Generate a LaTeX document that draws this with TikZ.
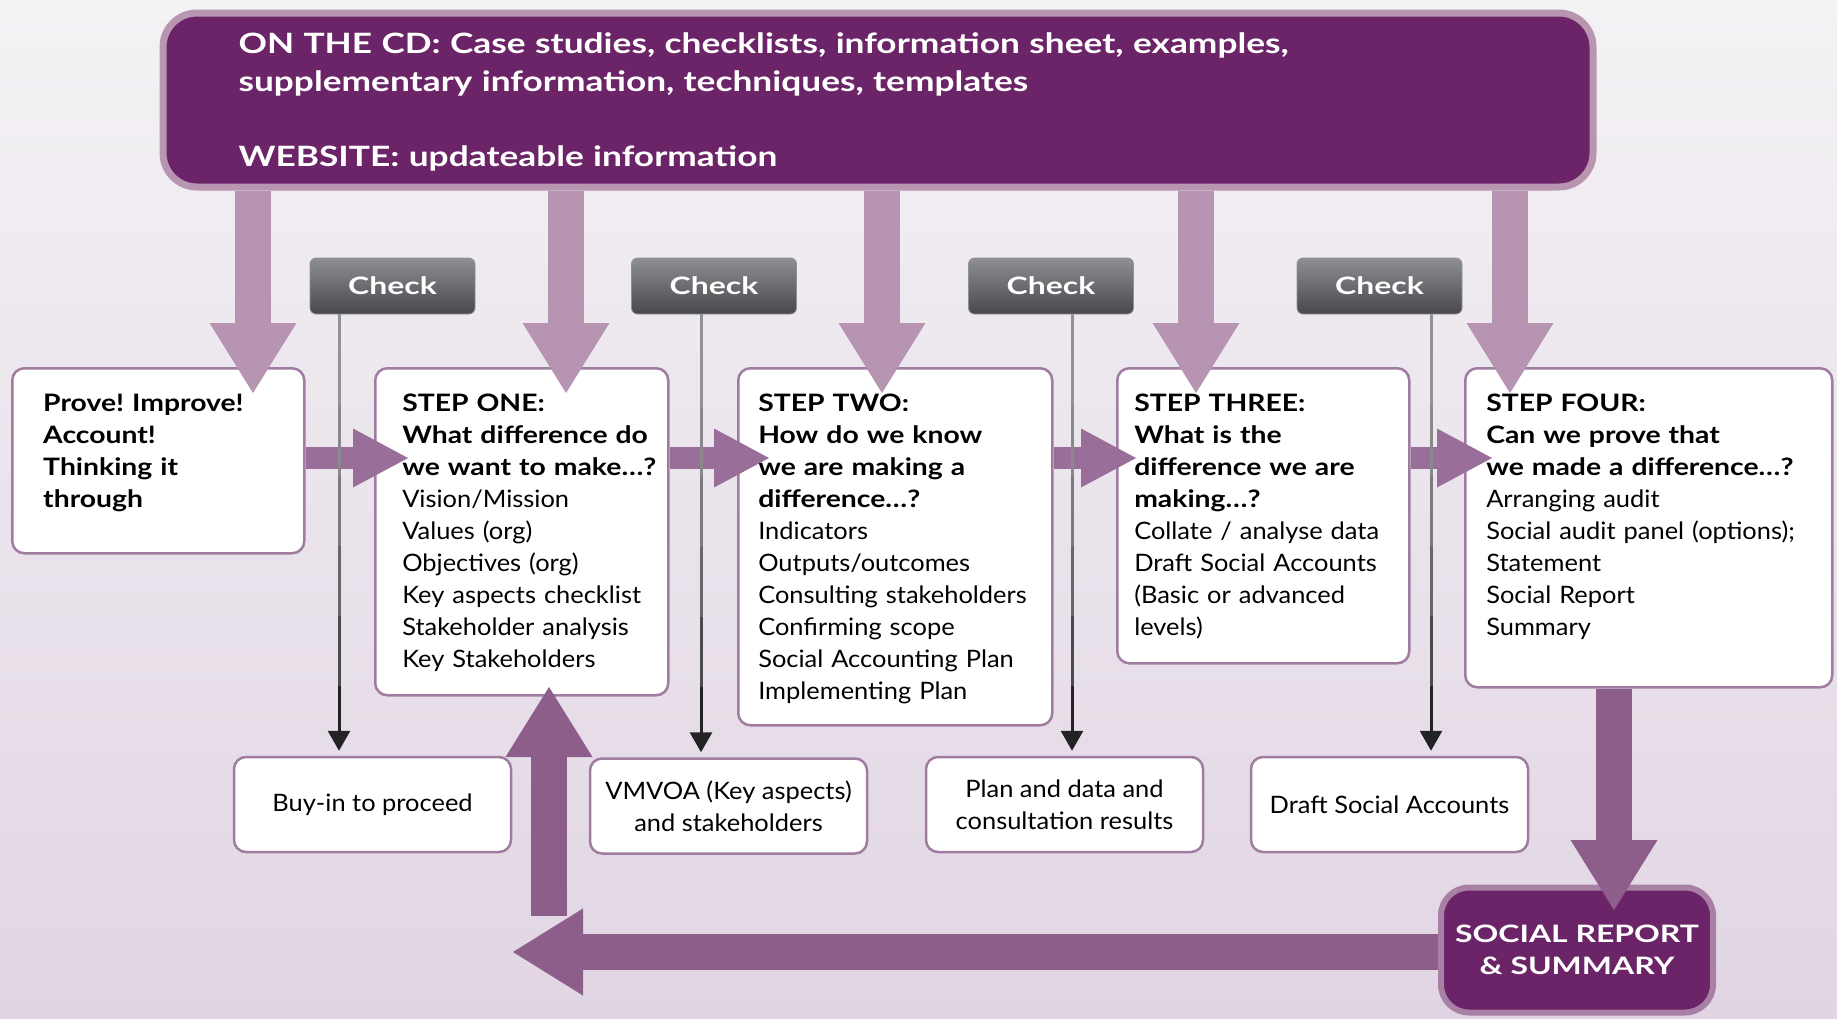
\documentclass[tikz,border=0pt]{standalone}
\usepackage{fontspec}
\setmainfont{Lato}[UprightFeatures={FakeStretch=1.06},BoldFeatures={FakeStretch=1.18}]
\newfontfamily\widesans{Lato}[FakeStretch=1.33]
\newfontfamily\cdsans{Lato}[FakeStretch=1.26]
\frenchspacing
\usetikzlibrary{arrows.meta,calc}
\definecolor{cd_purple}{RGB}{107,36,103}
\definecolor{cd_rim}{RGB}{184,150,178}
\definecolor{feed_purple}{RGB}{183,148,177}
\definecolor{step_purple}{RGB}{153,110,152}
\definecolor{loop_purple}{RGB}{142,94,139}
\definecolor{box_rim}{RGB}{160,125,160}
\definecolor{report_rim}{RGB}{168,128,165}
\definecolor{check_top}{RGB}{142,143,147}
\definecolor{check_bot}{RGB}{72,72,76}
\definecolor{check_line}{RGB}{35,35,37}
\definecolor{check_fade}{RGB}{170,170,173}
\definecolor{bg_top}{RGB}{244,242,245}
\definecolor{bg_bot}{RGB}{225,213,227}
\tikzstyle{cdbox}=[rectangle,fill=cd_purple,draw=cd_rim,line width=7pt,rounded corners=34pt,
  anchor=north west,inner sep=0pt,align=left,text=white,
  font=\cdsans\fontsize{28}{37.5}\selectfont\bfseries]
\tikzstyle{stepbox}=[rectangle,fill=white,draw=box_rim,line width=2.5pt,rounded corners=12pt,
  anchor=north west,inner sep=0pt,align=left,text height=43pt,
  font=\fontsize{24}{32}\selectfont]
\tikzstyle{checkbox}=[rectangle,rounded corners=6pt,top color=check_top,bottom color=check_bot,
  draw=check_bot!60!white,line width=0.8pt,minimum width=165pt,minimum height=56pt,
  text=white,font=\widesans\fontsize{24}{28}\selectfont\bfseries]
\tikzstyle{resultbox}=[rectangle,fill=white,draw=box_rim,line width=2.5pt,rounded corners=12pt,
  minimum width=277pt,minimum height=95pt,align=center,font=\fontsize{24}{32}\selectfont]
\tikzstyle{reportbox}=[rectangle,fill=cd_purple,draw=report_rim,line width=6pt,rounded corners=28pt,
  minimum width=272pt,minimum height=125pt,align=center,text=white,
  font=\widesans\fontsize{24}{32}\selectfont\bfseries]
\tikzstyle{feedarrow}=[draw=feed_purple,line width=36pt,
  -{Triangle[width=87pt,length=70pt,line width=0pt]}]
\tikzstyle{steparrow}=[draw=step_purple,line width=22pt,
  -{Triangle[width=59pt,length=55pt,line width=0pt]}]
\tikzstyle{looparrow}=[draw=loop_purple,line width=36pt,
  -{Triangle[width=87pt,length=70pt,line width=0pt]}]
\tikzstyle{checkline}=[draw=check_line,line width=3pt,
  -{Triangle[width=22pt,length=20pt]},shorten >=5pt,
  postaction={draw=check_fade,opacity=0.3,arrows=-,shorten >=70pt},
  postaction={draw=check_fade,opacity=0.3,arrows=-,shorten >=140pt},
  postaction={draw=check_fade,opacity=0.3,arrows=-,shorten >=210pt},
  postaction={draw=check_fade,opacity=0.3,arrows=-,shorten >=280pt},
  postaction={draw=check_fade,opacity=0.3,arrows=-,shorten >=350pt}]

\begin{document}
\begin{tikzpicture}[x=1pt,y=-1pt]
            \useasboundingbox (0,0) rectangle (1837,1018);
            \fill [top color=bg_top,bottom color=bg_bot] (0,0) rectangle (1837,1018);
            \node [style=cdbox,text width=1430pt,text height=40.5pt,text depth=133.5pt,
              execute at begin node={\leftskip=75.5pt}] (0) at (159.5, 9.5)
              {ON THE CD: Case studies, checklists, information sheet, examples,\\
               supplementary information, techniques, templates\\[37.5pt]
               WEBSITE: updateable information};
            \node [style=stepbox,text width=292pt,text depth=142pt,
              execute at begin node={\leftskip=31pt}] (1) at (11, 367)
              {\bfseries Prove! Improve!\\ Account!\\ Thinking it\\ through};
            \node [style=stepbox,text width=293pt,text depth=284pt,
              execute at begin node={\leftskip=27pt}] (2) at (374, 367)
              {{\bfseries STEP ONE:\\ What difference do\\ we want to make…?}\\
               Vision/Mission\\ Values (org)\\ Objectives (org)\\ Key aspects checklist\\
               Stakeholder analysis\\ Key Stakeholders};
            \node [style=stepbox,text width=314pt,text depth=314pt,
              execute at begin node={\leftskip=20pt}] (3) at (737, 367)
              {{\bfseries STEP TWO:\\ How do we know\\ we are making a\\ difference…?}\\
               Indicators\\ Outputs/outcomes\\ Consulting stakeholders\\ Confirming scope\\
               Social Accounting Plan\\ Implementing Plan};
            \node [style=stepbox,text width=292pt,text depth=252pt,
              execute at begin node={\leftskip=17pt}] (4) at (1116, 367)
              {{\bfseries STEP THREE:\\ What is the\\ difference we are\\ making…?}\\
               Collate / analyse data\\ Draft Social Accounts\\ (Basic or advanced\\ levels)};
            \node [style=stepbox,text width=367pt,text depth=276pt,
              execute at begin node={\leftskip=21pt}] (5) at (1464, 367)
              {{\bfseries STEP FOUR:\\ Can we prove that\\ we made a difference…?}\\
               Arranging audit\\ Social audit panel (options);\\ Statement\\ Social Report\\ Summary};
            \node [style=checkbox] (6) at (392.5, 286) {Check};
            \node [style=checkbox] (7) at (714, 286) {Check};
            \node [style=checkbox] (8) at (1051, 286) {Check};
            \node [style=checkbox] (9) at (1379.5, 286) {Check};
            \node [style=resultbox] (10) at (372.5, 804.5) {Buy-in to proceed};
            \node [style=resultbox] (11) at (728.5, 806) {VMVOA (Key aspects)\\ and stakeholders};
            \node [style=resultbox] (12) at (1064.5, 804.5) {Plan and data and\\ consultation results};
            \node [style=resultbox] (13) at (1389.5, 804.5) {Draft Social Accounts};
            \node [style=reportbox] (14) at (1577, 950) {SOCIAL REPORT\\ \& SUMMARY};
            \coordinate (v1) at (253, 393);
            \coordinate (v2) at (566, 393);
            \coordinate (v3) at (882, 393);
            \coordinate (v4) at (1196, 393);
            \coordinate (v5) at (1510, 393);
            \coordinate (h1) at (408, 458);
            \coordinate (h2) at (769, 458);
            \coordinate (h3) at (1136, 458);
            \coordinate (h4) at (1492, 458);
            \coordinate (c1) at (339, 0);
            \coordinate (c2) at (701, 0);
            \coordinate (c3) at (1072, 0);
            \coordinate (c4) at (1431, 0);
            \coordinate (d1) at (1614, 910);
            \coordinate (d2) at (513, 952);
            \coordinate (d3) at (549, 916);
            \coordinate (d4) at (549, 687);
            \draw [style=feedarrow] (0.south -| v1) to (v1);
            \draw [style=feedarrow] (0.south -| v2) to (v2);
            \draw [style=feedarrow] (0.south -| v3) to (v3);
            \draw [style=feedarrow] (0.south -| v4) to (v4);
            \draw [style=feedarrow] (0.south -| v5) to (v5);
            \draw [style=steparrow] (1.east |- h1) to (h1);
            \draw [style=steparrow] (2.east |- h2) to (h2);
            \draw [style=steparrow] (3.east |- h3) to (h3);
            \draw [style=steparrow] (4.east |- h4) to (h4);
            \draw [style=checkline] (6.south -| c1) to (10.north -| c1);
            \draw [style=checkline] (7.south -| c2) to (11.north -| c2);
            \draw [style=checkline] (8.south -| c3) to (12.north -| c3);
            \draw [style=checkline] (9.south -| c4) to (13.north -| c4);
            \draw [style=looparrow] (5.south -| d1) to (d1);
            \draw [style=looparrow] (14.west |- d2) to (d2);
            \draw [style=looparrow] (d3) to (d4);
    \end{tikzpicture}
\end{document}
